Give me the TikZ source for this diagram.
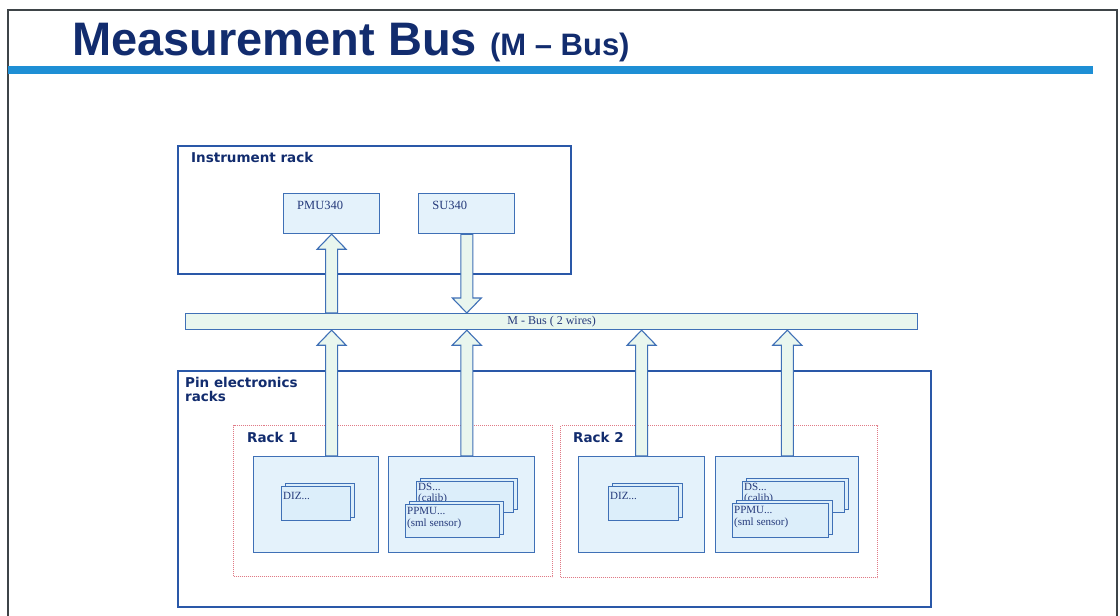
\documentclass[tikz,border=0pt]{standalone}
\usepackage{fontspec}
\setmainfont{Liberation Serif}
\newfontfamily\titlefont{Liberation Sans}
\newfontfamily\labelfont{DejaVu Sans}
\usetikzlibrary{positioning,calc,shadows}

\definecolor{navy}{HTML}{122C6E}
\definecolor{barblue}{HTML}{1E8FD5}
\definecolor{lineblue}{HTML}{2A58A8}
\definecolor{boxblue}{HTML}{3F70B6}
\definecolor{boxfill}{HTML}{E4F2FB}
\definecolor{cardfill}{HTML}{DCEEFA}
\definecolor{arrowfill}{HTML}{E9F6EE}
\definecolor{rackred}{HTML}{E07A86}
\definecolor{textblue}{HTML}{24397A}
\definecolor{framegray}{HTML}{3E4448}

% block arrow from #1 (tail) to #2 (tip), vertical
\newcommand{\mbarrow}[2]{%
  \path[busarrow] let \p1=(#1), \p2=(#2), \n1={sign(\y2-\y1)} in
    (\x1-6pt,\y1) -- (\x1-6pt,\y2-15pt*\n1) -- (\x1-14.5pt,\y2-15pt*\n1) -- (\x1,\y2)
    -- (\x1+14.5pt,\y2-15pt*\n1) -- (\x1+6pt,\y2-15pt*\n1) -- (\x1+6pt,\y1) -- cycle;}

\begin{document}
\begin{tikzpicture}[x=1pt, y=-1pt,
  node distance=10pt,
  framebox/.style={draw=lineblue, line width=1.6pt, fill=white, anchor=north west, inner sep=0pt},
  rackbox/.style={draw=rackred, densely dotted, line width=1pt, anchor=north west, inner sep=0pt},
  modbox/.style={draw=boxblue, fill=boxfill, line width=1.2pt, anchor=north west, inner sep=0pt, minimum height=96pt},
  unitbox/.style={draw=boxblue, fill=boxfill, line width=1.2pt, anchor=north west, inner sep=0pt,
            minimum width=96pt, minimum height=40pt},
  cardbox/.style={draw=boxblue, fill=cardfill, line width=1.1pt, anchor=north west, inner sep=0pt,
            copy shadow={shadow xshift=4pt, shadow yshift=3pt, draw=boxblue, fill=cardfill, line width=1.1pt}},
  headlbl/.style={font=\labelfont\bfseries\fontsize{13.5}{14.5}\selectfont, text=navy, align=left,
            anchor=north west, inner sep=0pt},
  cardtxt/.style={font=\fontsize{11}{12.5}\selectfont, text=textblue, align=left, anchor=north west,
            inner sep=0pt, xshift=2pt, yshift=-3pt},
  busarrow/.style={draw=boxblue, fill=arrowfill, line width=1.1pt, line join=miter}
]
  \useasboundingbox (0,0) rectangle (1120,616);
  \fill[white] (0,0) rectangle (1120,616);

  % slide frame and title
  \draw[framegray, line width=1.6pt] (8,616) -- (8,10) -- (1117,10) -- (1117,616);
  \node[anchor=base west, inner sep=0pt, text=navy, font=\titlefont\bfseries\fontsize{47}{50}\selectfont]
    (title) at (72,55) {Measurement Bus {\fontsize{31}{34}\selectfont (M – Bus)}};
  \fill[barblue] (8,66) rectangle (1093,74);

  % instrument rack
  \node[framebox, minimum width=393pt, minimum height=128pt] (IR) at (177,145) {};
  \node[headlbl] (IRlbl) at ([shift={(14,7)}]IR.north west) {Instrument rack};
  \node[unitbox, label={[cardtxt, font=\fontsize{12.5}{13}\selectfont, xshift=12pt, yshift=-5pt]north west:PMU340}]
    (PMU) at (283,193) {};
  \node[unitbox, right=38pt of PMU, label={[cardtxt, font=\fontsize{12.5}{13}\selectfont, xshift=12pt, yshift=-5pt]north west:SU340}]
    (SU) {};

  % pin electronics racks
  \node[framebox, minimum width=753pt, minimum height=236pt] (PE) at (177,370) {};
  \node[headlbl] (PElbl) at ([shift={(8,7)}]PE.north west) {Pin electronics\\racks};

  \node[rackbox, minimum width=319pt, minimum height=151pt] (R1) at (233,425) {};
  \node[rackbox, minimum width=317pt, minimum height=152pt] (R2) at (560,425) {};
  \node[headlbl] (R1lbl) at ([shift={(14,7)}]R1.north west) {Rack 1};
  \node[headlbl] (R2lbl) at ([shift={(13,7)}]R2.north west) {Rack 2};

  \node[modbox, minimum width=125pt] (A1) at (253,456) {};
  \node[modbox, minimum width=146pt, right=9pt of A1] (B1) {};
  \node[modbox, minimum width=126pt] (A2) at (578,456) {};
  \node[modbox, minimum width=143pt, right=10pt of A2] (B2) {};

  \node[cardbox, minimum width=69pt, minimum height=34pt, label={[cardtxt, yshift=-3pt]north west:DIZ...}]
    (DIZ1) at (281,486) {};
  \node[cardbox, minimum width=97pt, minimum height=31pt, label={[cardtxt, font=\fontsize{11}{11}\selectfont, yshift=1pt]north west:{DS...\\(calib)}}]
    (DS1) at (416,481) {};
  \node[cardbox, minimum width=94pt, minimum height=33pt, label={[cardtxt]north west:{PPMU...\\(sml sensor)}}]
    (PPMU1) at (405,504) {};

  \node[cardbox, minimum width=70pt, minimum height=34pt, label={[cardtxt, yshift=-3pt]north west:DIZ...}]
    (DIZ2) at (608,486) {};
  \node[cardbox, minimum width=102pt, minimum height=31pt, label={[cardtxt, font=\fontsize{11}{11}\selectfont, yshift=1pt]north west:{DS...\\(calib)}}]
    (DS2) at (742,481) {};
  \node[cardbox, minimum width=96pt, minimum height=34pt, label={[cardtxt]north west:{PPMU...\\(sml sensor)}}]
    (PPMU2) at (732,503) {};

  % the bus
  \node[draw=boxblue, fill=arrowfill, line width=1.2pt, anchor=north west, minimum width=732pt,
    minimum height=16pt, inner sep=0pt, font=\fontsize{12}{13}\selectfont, text=textblue]
    (bus) at (185,313) {M - Bus ( 2 wires)};

  % arrows
  \mbarrow{bus.north -| PMU.south}{PMU.south}
  \mbarrow{SU.south}{bus.north -| SU.south}
  \mbarrow{A1.north -| PMU.south}{bus.south -| PMU.south}
  \mbarrow{B1.north -| SU.south}{bus.south -| SU.south}
  \mbarrow{A2.north}{bus.south -| A2.north}
  \mbarrow{B2.north}{bus.south -| B2.north}
\end{tikzpicture}
\end{document}
